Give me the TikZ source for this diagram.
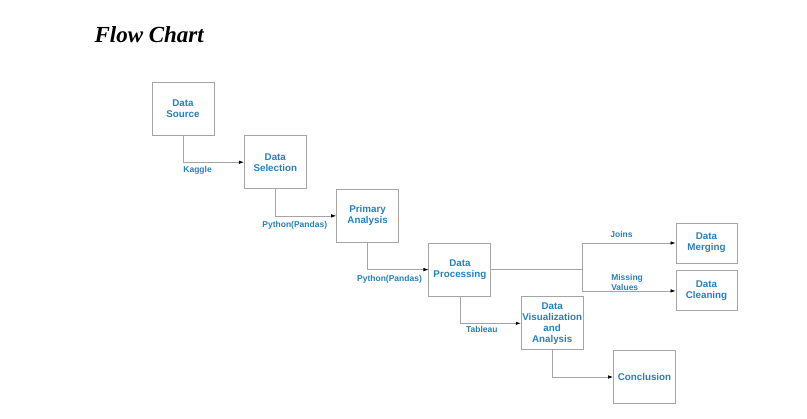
\documentclass[tikz,border=0pt]{standalone}
\usepackage{fontspec}
\setmainfont{Liberation Serif}
\setsansfont{Liberation Sans}
\usepackage{tikz}
\usetikzlibrary{arrows.meta, positioning, calc}
\definecolor{labelblue}{RGB}{38,128,190}
\definecolor{linegray}{RGB}{165,165,165}

\begin{document}
\begin{tikzpicture}[
        x=1pt, y=1pt,
        block/.style={rectangle, draw=linegray, line width=0.9pt, minimum width=62pt, minimum height=53pt, inner sep=1pt, align=center, font=\sffamily\bfseries\fontsize{9.8}{11}\selectfont, text=labelblue},
        sideblock/.style={block, minimum width=61pt, minimum height=40pt},
        lbl/.style={font=\sffamily\bfseries\fontsize{8.5}{10}\selectfont, text=labelblue, inner sep=2pt},
        arrow/.style={-{Latex[length=5pt, width=3.5pt, color=black]}, line width=0.6pt, linegray}
    ]
    \useasboundingbox (0,0) rectangle (807,-419);

    % Title
    \node[anchor=base west, font=\bfseries\itshape\fontsize{23}{27}\selectfont] (title) at (91,-43) {Flow Chart};

    % Main steps
    \node[block] (source) at (183,-108.5) {Data\\Source};
    \node[block, below right=-0.2pt and 29.4pt of source] (selection) {Data\\Selection};
    \node[block, below right=-0.2pt and 29.4pt of selection] (primary) {Primary\\Analysis};
    \node[block, below right=-0.2pt and 29.4pt of primary] (processing) {Data\\Processing};
    \node[block, below right=-0.2pt and 29.4pt of processing] (visual) {Data\\Visualization\\and\\Analysis};
    \node[block, below right=-0.2pt and 29.4pt of visual] (conclusion) {Conclusion};

    % Side steps
    \node[sideblock] (merging) at (706.5,-243) {Data\\Merging};
    \node[sideblock, below=7pt of merging] (cleaning) {Data\\Cleaning};
    \coordinate[right=91pt of processing.east] (split);

    % Arrows
    \draw[arrow] (source) |- node[lbl, below, pos=0.62, yshift=-2pt] {Kaggle} (selection);
    \draw[arrow] (selection) |- node[lbl, below, pos=0.66, yshift=-3pt] {Python(Pandas)} (primary);
    \draw[arrow] (primary) |- node[lbl, below, pos=0.68, yshift=-3pt] {Python(Pandas)} (processing);
    \draw[arrow] (processing) |- node[lbl, below, pos=0.68, yshift=-1pt] {Tableau} (visual);
    \draw[arrow] (visual) |- (conclusion);
    \draw[line width=0.6pt, linegray] (processing.east) -- (split);
    \draw[arrow] (split) |- node[lbl, above, pos=0.71, yshift=3pt] {Joins} (merging.west);
    \draw[arrow] (split) |- node[lbl, above, pos=0.74, align=left, inner sep=0.5pt] {Missing\\Values} (cleaning.west);

    \end{tikzpicture}
\end{document}
